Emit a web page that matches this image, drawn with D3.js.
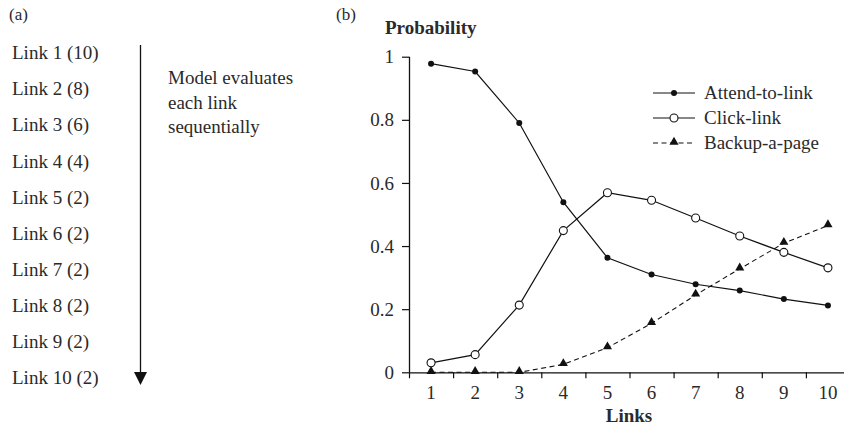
<!DOCTYPE html>
<html>
<head>
<meta charset="utf-8">
<script src="https://cdn.jsdelivr.net/npm/d3@7"></script>
<style>
  body { margin: 0; background: #fff; }
  svg text { font-family: "Liberation Serif", "DejaVu Serif", serif; fill: #2a2a2a; }
</style>
</head>
<body>
<div id="chart"></div>
<script>
// data
var links = [1, 2, 3, 4, 5, 6, 7, 8, 9, 10];
var linkLabels = ["Link 1 (10)", "Link 2 (8)", "Link 3 (6)", "Link 4 (4)", "Link 5 (2)",
                  "Link 6 (2)", "Link 7 (2)", "Link 8 (2)", "Link 9 (2)", "Link 10 (2)"];
var attend = [0.978, 0.953, 0.79, 0.539, 0.363, 0.31, 0.279, 0.259, 0.232, 0.212];
var click = [0.03, 0.056, 0.213, 0.449, 0.569, 0.545, 0.489, 0.432, 0.38, 0.331];
var backup = [0, 0, 0, 0.025, 0.078, 0.155, 0.245, 0.328, 0.409, 0.465];
var yTicks = [0, 0.2, 0.4, 0.6, 0.8, 1];
var seriesNames = ["Attend-to-link", "Click-link", "Backup-a-page"];

var width = 844, height = 427;
var fs = "19px";

var svg = d3.select("#chart")
  .append("svg")
  .attr("width", width)
  .attr("height", height);

// ---- panel (a) ----
svg.append("text").attr("x", 9).attr("y", 20).style("font-size", "17px").text("(a)");

var rowY = d3.scalePoint().domain(linkLabels).range([53, 378]);

svg.append("g")
  .selectAll("text")
  .data(linkLabels)
  .enter()
  .append("text")
  .attr("x", 12)
  .attr("y", d => rowY(d))
  .attr("dy", "0.33em")
  .style("font-size", fs)
  .text(d => d);

svg.append("line")
  .attr("x1", 140.5).attr("x2", 140.5)
  .attr("y1", 45).attr("y2", 374)
  .attr("stroke", "#111").attr("stroke-width", 1.3);
svg.append("path")
  .attr("d", "M134,372 L147,372 L140.5,385 Z")
  .attr("fill", "#111");

["Model evaluates", "each link", "sequentially"].forEach(function(t, i) {
  svg.append("text")
    .attr("x", 168)
    .attr("y", 78 + i * 24.5)
    .attr("dy", "0.33em")
    .style("font-size", fs)
    .text(t);
});

// ---- panel (b) ----
svg.append("text").attr("x", 336).attr("y", 20).style("font-size", "17px").text("(b)");

var x = d3.scaleLinear().domain([0.5, 10.5]).range([409, 850]);
var y = d3.scaleLinear().domain([0, 1]).range([372.3, 56.7]);

// x axis with ticks between categories
var xAxis = d3.axisBottom(x)
  .tickValues(d3.range(0.5, 11, 1))
  .tickSize(6)
  .tickFormat("");
var gx = svg.append("g")
  .attr("transform", `translate(0, ${y(0)})`)
  .call(xAxis);
gx.select(".domain").attr("stroke", "#111").attr("stroke-width", 1.3).attr("d", "M409,0.5H850");
gx.selectAll(".tick line").attr("stroke", "#111").attr("stroke-width", 1.2);

svg.append("g")
  .selectAll("text")
  .data(links)
  .enter()
  .append("text")
  .attr("x", d => x(d))
  .attr("y", 393)
  .attr("dy", "0.33em")
  .attr("text-anchor", "middle")
  .style("font-size", fs)
  .text(d => d);

// y axis
var yAxis = d3.axisLeft(y)
  .tickValues(yTicks)
  .tickSize(7)
  .tickPadding(8)
  .tickFormat(d => d === 0 || d === 1 ? d : d3.format(".1f")(d));
var gy = svg.append("g")
  .attr("transform", "translate(409, 0)")
  .call(yAxis);
gy.select(".domain").attr("stroke", "#111").attr("stroke-width", 1.3).attr("d", `M0.5,${y(1)}V${y(0)}`);
gy.selectAll(".tick line").attr("stroke", "#111").attr("stroke-width", 1.2);
gy.selectAll(".tick text")
  .style("font-family", "'Liberation Serif', serif")
  .style("font-size", fs)
  .style("fill", "#2a2a2a");

// axis titles
svg.append("text")
  .attr("x", 385).attr("y", 34)
  .style("font-size", fs).style("font-weight", "bold")
  .text("Probability");
svg.append("text")
  .attr("x", 629).attr("y", 422)
  .attr("text-anchor", "middle")
  .style("font-size", fs).style("font-weight", "bold")
  .text("Links");

var line = d3.line()
  .x((d, i) => x(links[i]))
  .y(d => y(d));

// backup (dashed) first so others sit above
svg.append("path")
  .datum(backup)
  .attr("d", line)
  .attr("fill", "none")
  .attr("stroke", "#111")
  .attr("stroke-width", 1.1)
  .attr("stroke-dasharray", "5,3.5");
svg.append("path")
  .datum(attend)
  .attr("d", line)
  .attr("fill", "none")
  .attr("stroke", "#111")
  .attr("stroke-width", 1.2);
svg.append("path")
  .datum(click)
  .attr("d", line)
  .attr("fill", "none")
  .attr("stroke", "#111")
  .attr("stroke-width", 1.2);

var tri = d3.symbol().type(d3.symbolTriangle).size(36);

svg.append("g")
  .selectAll("path")
  .data(backup)
  .enter()
  .append("path")
  .attr("d", tri)
  .attr("transform", (d, i) => `translate(${x(links[i])}, ${y(d) - 1})`)
  .attr("fill", "#111");

svg.append("g")
  .selectAll("circle")
  .data(attend)
  .enter()
  .append("circle")
  .attr("cx", (d, i) => x(links[i]))
  .attr("cy", d => y(d))
  .attr("r", 3)
  .attr("fill", "#111");

svg.append("g")
  .selectAll("circle")
  .data(click)
  .enter()
  .append("circle")
  .attr("cx", (d, i) => x(links[i]))
  .attr("cy", d => y(d))
  .attr("r", 4)
  .attr("fill", "#fff")
  .attr("stroke", "#111")
  .attr("stroke-width", 1.1);

// legend
var legY = [93, 118, 143];
var legend = svg.append("g");
seriesNames.forEach(function(name, i) {
  var ly = legY[i];
  legend.append("line")
    .attr("x1", 653).attr("x2", 695)
    .attr("y1", ly).attr("y2", ly)
    .attr("stroke", "#111")
    .attr("stroke-width", 1.2)
    .attr("stroke-dasharray", i === 2 ? "5,3.5" : null);
  if (i === 0) {
    legend.append("circle").attr("cx", 674).attr("cy", ly).attr("r", 3).attr("fill", "#111");
  } else if (i === 1) {
    legend.append("circle").attr("cx", 674).attr("cy", ly).attr("r", 4)
      .attr("fill", "#fff").attr("stroke", "#111").attr("stroke-width", 1.1);
  } else {
    legend.append("path").attr("d", tri).attr("transform", `translate(674, ${ly - 1})`).attr("fill", "#111");
  }
  legend.append("text")
    .attr("x", 704).attr("y", ly)
    .attr("dy", "0.33em")
    .style("font-size", fs)
    .text(name);
});
</script>
</body>
</html>
